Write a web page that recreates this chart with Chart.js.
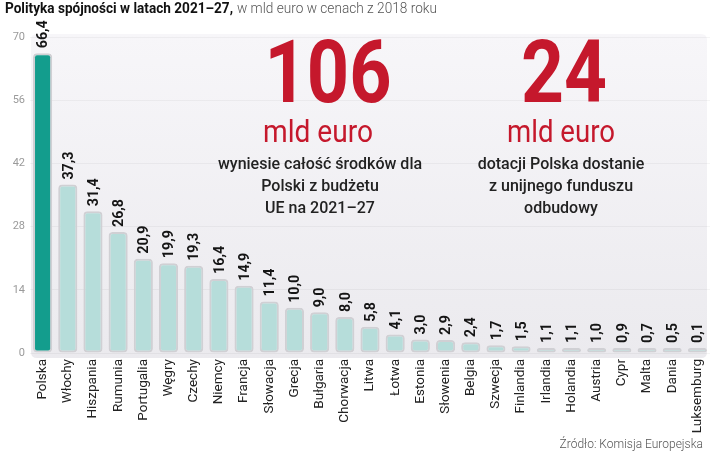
<!DOCTYPE html>
<html>
<head>
<meta charset="utf-8">
<script src="https://cdn.jsdelivr.net/npm/chart.js@4.4.1/dist/chart.umd.min.js"></script>
<style>
  html, body { margin: 0; padding: 0; background: #ffffff; }
  #wrap { width: 720px; height: 452px; position: relative; }
</style>
</head>
<body>
<div id="wrap"><canvas id="c" width="720" height="452"></canvas></div>
<script>
const categories = ["Polska","Włochy","Hiszpania","Rumunia","Portugalia","Węgry","Czechy","Niemcy","Francja","Słowacja","Grecja","Bułgaria","Chorwacja","Litwa","Łotwa","Estonia","Słowenia","Belgia","Szwecja","Finlandia","Irlandia","Holandia","Austria","Cypr","Malta","Dania","Luksemburg"];
const values = [66.4,37.3,31.4,26.8,20.9,19.9,19.3,16.4,14.9,11.4,10.0,9.0,8.0,5.8,4.1,3.0,2.9,2.4,1.7,1.5,1.1,1.1,1.0,0.9,0.7,0.5,0.1];
const yTicks = [0,14,28,42,56,70];
const titleBold = "Polityka spójności w latach 2021–27,";
const titleRest = "w mld euro w cenach z 2018 roku";
const bigNumbers = ["106","24"];
const bigUnit = "mld euro";
const noteLeft = ["wyniesie całość środków dla","Polski z budżetu","UE na 2021–27"];
const noteRight = ["dotacji Polska dostanie","z unijnego funduszu","odbudowy"];
const sourceText = "Źródło: Komisja Europejska";

const RED = "#c5182c";

function fitText(ctx, text, x, y, width, align) {
  const w = ctx.measureText(text).width;
  const s = width / w;
  ctx.save();
  ctx.translate(x, y);
  ctx.scale(s, 1);
  ctx.textAlign = align;
  ctx.fillText(text, 0, 0);
  ctx.restore();
}

const backgroundPlugin = {
  id: "bg",
  beforeDraw(chart) {
    const ctx = chart.ctx;
    ctx.save();
    ctx.fillStyle = "#ffffff";
    ctx.fillRect(0, 0, chart.width, chart.height);
    const x0 = 31, y0 = 34, x1 = 707, y1 = 358, r = 6;
    const g = ctx.createLinearGradient(0, y0, 0, y1);
    g.addColorStop(0, "#f7f6f9");
    g.addColorStop(1, "#ebeaee");
    ctx.fillStyle = g;
    ctx.beginPath();
    ctx.moveTo(x0 + r, y0);
    ctx.lineTo(x1 - r, y0);
    ctx.quadraticCurveTo(x1, y0, x1, y0 + r);
    ctx.lineTo(x1, y1 - r);
    ctx.quadraticCurveTo(x1, y1, x1 - r, y1);
    ctx.lineTo(x0 + r, y1);
    ctx.quadraticCurveTo(x0, y1, x0, y1 - r);
    ctx.lineTo(x0, y0 + r);
    ctx.quadraticCurveTo(x0, y0, x0 + r, y0);
    ctx.closePath();
    ctx.fill();

    // title
    ctx.textBaseline = "alphabetic";
    ctx.fillStyle = "#111111";
    ctx.font = "bold 14px Roboto";
    fitText(ctx, titleBold, 5, 13, 228, "left");
    ctx.fillStyle = "#555555";
    ctx.font = "300 14px Roboto";
    fitText(ctx, titleRest, 237, 13, 200, "left");

    // source
    ctx.font = "300 12px Roboto";
    ctx.fillStyle = "#555555";
    ctx.textAlign = "right";
    ctx.textBaseline = "middle";
    ctx.fillText(sourceText, 703, 445);
    ctx.restore();
  },
  beforeDatasetsDraw(chart) {
    const ctx = chart.ctx;
    ctx.save();
    ctx.fillStyle = RED;
    ctx.textBaseline = "alphabetic";
    ctx.font = "bold 88px Roboto";
    fitText(ctx, bigNumbers[0], 328, 102, 127, "center");
    fitText(ctx, bigNumbers[1], 564, 102, 86, "center");
    ctx.font = "400 32px Roboto";
    fitText(ctx, bigUnit, 318, 142, 110, "center");
    fitText(ctx, bigUnit, 561, 142, 108, "center");
    ctx.fillStyle = "#222222";
    ctx.font = "500 16px Roboto";
    ctx.textBaseline = "middle";
    const ys = [165, 187, 209];
    const lw = [215, 140, 118];
    const rw = [168, 147, 84];
    ctx.textAlign = "center";
    noteLeft.forEach((t, i) => ctx.fillText(t, 320, ys[i]));
    noteRight.forEach((t, i) => ctx.fillText(t, 561, ys[i]));
    ctx.restore();
  }
};

const labelPlugin = {
  id: "vlabels",
  afterDatasetsDraw(chart) {
    const ctx = chart.ctx;
    const meta = chart.getDatasetMeta(0);
    ctx.save();
    ctx.fillStyle = "#151515";
    ctx.font = "bold 15px Roboto";
    ctx.textAlign = "left";
    ctx.textBaseline = "middle";
    meta.data.forEach((bar, i) => {
      const txt = values[i].toFixed(1).replace(".", ",");
      ctx.save();
      ctx.translate(bar.x, bar.y - 5);
      ctx.rotate(-Math.PI / 2);
      ctx.scale(0.95, 1);
      ctx.fillText(txt, 0, 1);
      ctx.restore();
    });
    ctx.restore();
  }
};

new Chart(document.getElementById("c"), {
  type: "bar",
  data: {
    labels: categories,
    datasets: [{
      data: values,
      backgroundColor: categories.map((c, i) => i === 0 ? "#139d8d" : "#b6ddda"),
      borderColor: "#d0d0d4",
      borderWidth: 2,
      borderRadius: 4,
      borderSkipped: false,
      minBarLength: 5,
      barPercentage: 0.76,
      categoryPercentage: 1.0
    }]
  },
  options: {
    responsive: false,
    animation: false,
    devicePixelRatio: 1,
    layout: { padding: { top: 37, right: 10, bottom: 0, left: 0 } },
    plugins: { legend: { display: false }, tooltip: { enabled: false } },
    scales: {
      x: {
        grid: { display: false, drawTicks: false },
        border: { display: false },
        ticks: {
          maxRotation: 90, minRotation: 90, autoSkip: false,
          padding: 6, color: "#222222",
          font: { family: "Roboto", size: 13.5 }
        },
        afterFit(scale) { scale.height = 99; }
      },
      y: {
        min: 0, max: 70,
        afterBuildTicks(scale) { scale.ticks = yTicks.map(v => ({ value: v })); },
        grid: { color: "rgba(0,0,0,0.04)", drawTicks: false },
        border: { display: false },
        ticks: { padding: 5, color: "#9a9a9a", font: { family: "Roboto", size: 11 } },
        afterFit(scale) { scale.width = 30; }
      }
    }
  },
  plugins: [backgroundPlugin, labelPlugin]
});
</script>
</body>
</html>
